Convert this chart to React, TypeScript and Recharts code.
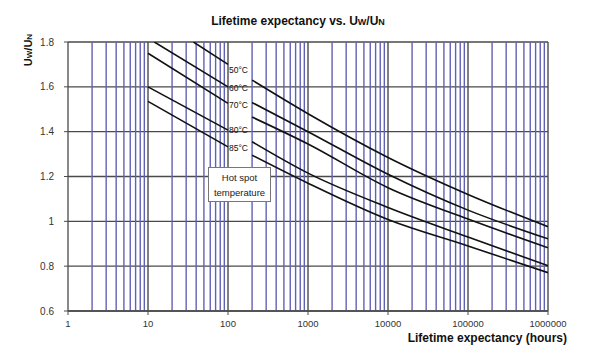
import React from 'react';
import {
  LineChart, Line, CartesianGrid, XAxis, YAxis, ReferenceLine, LabelList,
} from 'recharts';

// hours vs Uw/Un; each curve is broken round its label at 100 h
const hot50Left = [{ h: 37, v: 1.80 }, { h: 100, v: 1.70 }];
const hot50Right = [{ h: 200, v: 1.63 }, { h: 1000, v: 1.48 }, { h: 10000, v: 1.285 }, { h: 100000, v: 1.12 }, { h: 1000000, v: 0.976 }];
const hot60Left = [{ h: 12, v: 1.80 }, { h: 100, v: 1.60 }];
const hot60Right = [{ h: 200, v: 1.53 }, { h: 1000, v: 1.40 }, { h: 10000, v: 1.21 }, { h: 100000, v: 1.05 }, { h: 1000000, v: 0.922 }];
const hot70Left = [{ h: 10, v: 1.75 }, { h: 100, v: 1.526 }];
const hot70Right = [{ h: 200, v: 1.465 }, { h: 1000, v: 1.345 }, { h: 10000, v: 1.15 }, { h: 100000, v: 1.01 }, { h: 1000000, v: 0.882 }];
const hot80Left = [{ h: 10, v: 1.60 }, { h: 100, v: 1.407 }];
const hot80Right = [{ h: 200, v: 1.355 }, { h: 1000, v: 1.215 }, { h: 10000, v: 1.062 }, { h: 100000, v: 0.93 }, { h: 1000000, v: 0.802 }];
const hot85Left = [{ h: 10, v: 1.535 }, { h: 100, v: 1.332 }];
const hot85Right = [{ h: 200, v: 1.295 }, { h: 1000, v: 1.17 }, { h: 10000, v: 1.008 }, { h: 100000, v: 0.89 }, { h: 1000000, v: 0.771 }];

const curveLabels = ['50°C', '60°C', '70°C', '80°C', '85°C'];
const decades = [1, 10, 100, 1000, 10000, 100000, 1000000];
const minorSteps = [2, 3, 4, 5, 6, 7, 8, 9];
const yTicks = [0.6, 0.8, 1, 1.2, 1.4, 1.6, 1.8];

const FONT = '"Liberation Sans", Arial, sans-serif';
const BLUE = '#6262b4';
const GRAY = '#4a4a4a';

const curves = [
  { name: curveLabels[0], left: hot50Left, right: hot50Right, dy: 6 },
  { name: curveLabels[1], left: hot60Left, right: hot60Right, dy: 1 },
  { name: curveLabels[2], left: hot70Left, right: hot70Right, dy: 2 },
  { name: curveLabels[3], left: hot80Left, right: hot80Right, dy: 0 },
  { name: curveLabels[4], left: hot85Left, right: hot85Right, dy: 1 },
];

const minorLines = decades.slice(0, -1).flatMap(d => minorSteps.map(m => d * m));

function endLabel(text: string, count: number, dy: number) {
  return (props: any) => {
    if (props.index !== count - 1) return null;
    return (
      <text x={props.x + 1} y={props.y + dy + 3} fontSize={8.5} fill="#111" fontFamily={FONT}>
        {text}
      </text>
    );
  };
}

export default function App() {
  return (
    <div style={{ position: 'absolute', left: 0, top: 0, width: 600, height: 353, background: '#fff', fontFamily: FONT }}>
      <div style={{ position: 'absolute', left: 0, width: 596, top: 13, textAlign: 'center', fontWeight: 'bold', fontSize: 12, lineHeight: '16px', color: '#111' }}>
        Lifetime expectancy vs. U<span style={{ fontSize: 9 }}>W</span>/U<span style={{ fontSize: 9 }}>N</span>
      </div>
      <div style={{ position: 'absolute', left: 28, top: 50, transform: 'translate(-50%, -50%) rotate(-90deg)', fontWeight: 'bold', fontSize: 11, color: '#111', whiteSpace: 'nowrap' }}>
        U<span style={{ fontSize: 8 }}>W</span>/U<span style={{ fontSize: 8 }}>N</span>
      </div>
      <div style={{ position: 'absolute', right: 33, top: 331, fontWeight: 'bold', fontSize: 12, lineHeight: '15px', color: '#111' }}>
        Lifetime expectancy (hours)
      </div>

      <LineChart width={600} height={353} margin={{ top: 42, right: 52, bottom: 12, left: 8 }}>
        <CartesianGrid horizontal vertical={false} stroke={GRAY} strokeWidth={1.3} />
        {minorLines.map(x => (
          <ReferenceLine key={`m${x}`} x={x} stroke={BLUE} strokeWidth={1.4} />
        ))}
        {decades.slice(1).map(x => (
          <ReferenceLine key={`d${x}`} x={x} stroke={GRAY} strokeWidth={1.4} />
        ))}
        <XAxis
          dataKey="h"
          type="number"
          scale="log"
          domain={[1, 1000000]}
          ticks={decades}
          allowDataOverflow
          tickFormatter={(v: number) => String(v)}
          tick={{ fontSize: 9.5, fill: '#333', fontFamily: FONT }}
          tickSize={4}
          tickMargin={5}
          height={30}
          axisLine={{ stroke: GRAY, strokeWidth: 1.3 }}
          tickLine={{ stroke: GRAY }}
        />
        <YAxis
          type="number"
          domain={[0.6, 1.8]}
          ticks={yTicks}
          allowDataOverflow
          tickFormatter={(v: number) => String(v)}
          tick={{ fontSize: 10, fill: '#333', fontFamily: FONT }}
          tickSize={4}
          tickMargin={10}
          width={60}
          axisLine={{ stroke: GRAY, strokeWidth: 1.3 }}
          tickLine={{ stroke: GRAY }}
        />
        {curves.map(c => (
          <Line key={`${c.name}-l`} data={c.left} dataKey="v" type="monotone" stroke="#111" strokeWidth={1.6} dot={false} isAnimationActive={false}>
            <LabelList dataKey="v" content={endLabel(c.name, c.left.length, c.dy)} />
          </Line>
        ))}
        {curves.map(c => (
          <Line key={`${c.name}-r`} data={c.right} dataKey="v" type="monotone" stroke="#111" strokeWidth={1.6} dot={false} isAnimationActive={false} />
        ))}
      </LineChart>

      <div style={{ position: 'absolute', left: 208, top: 167, width: 63, height: 35, boxSizing: 'border-box', border: '1px solid #777', background: '#fff', fontSize: 9.5, lineHeight: '15px', textAlign: 'center', color: '#222', paddingTop: 2 }}>
        Hot spot<br />temperature
      </div>
    </div>
  );
}
